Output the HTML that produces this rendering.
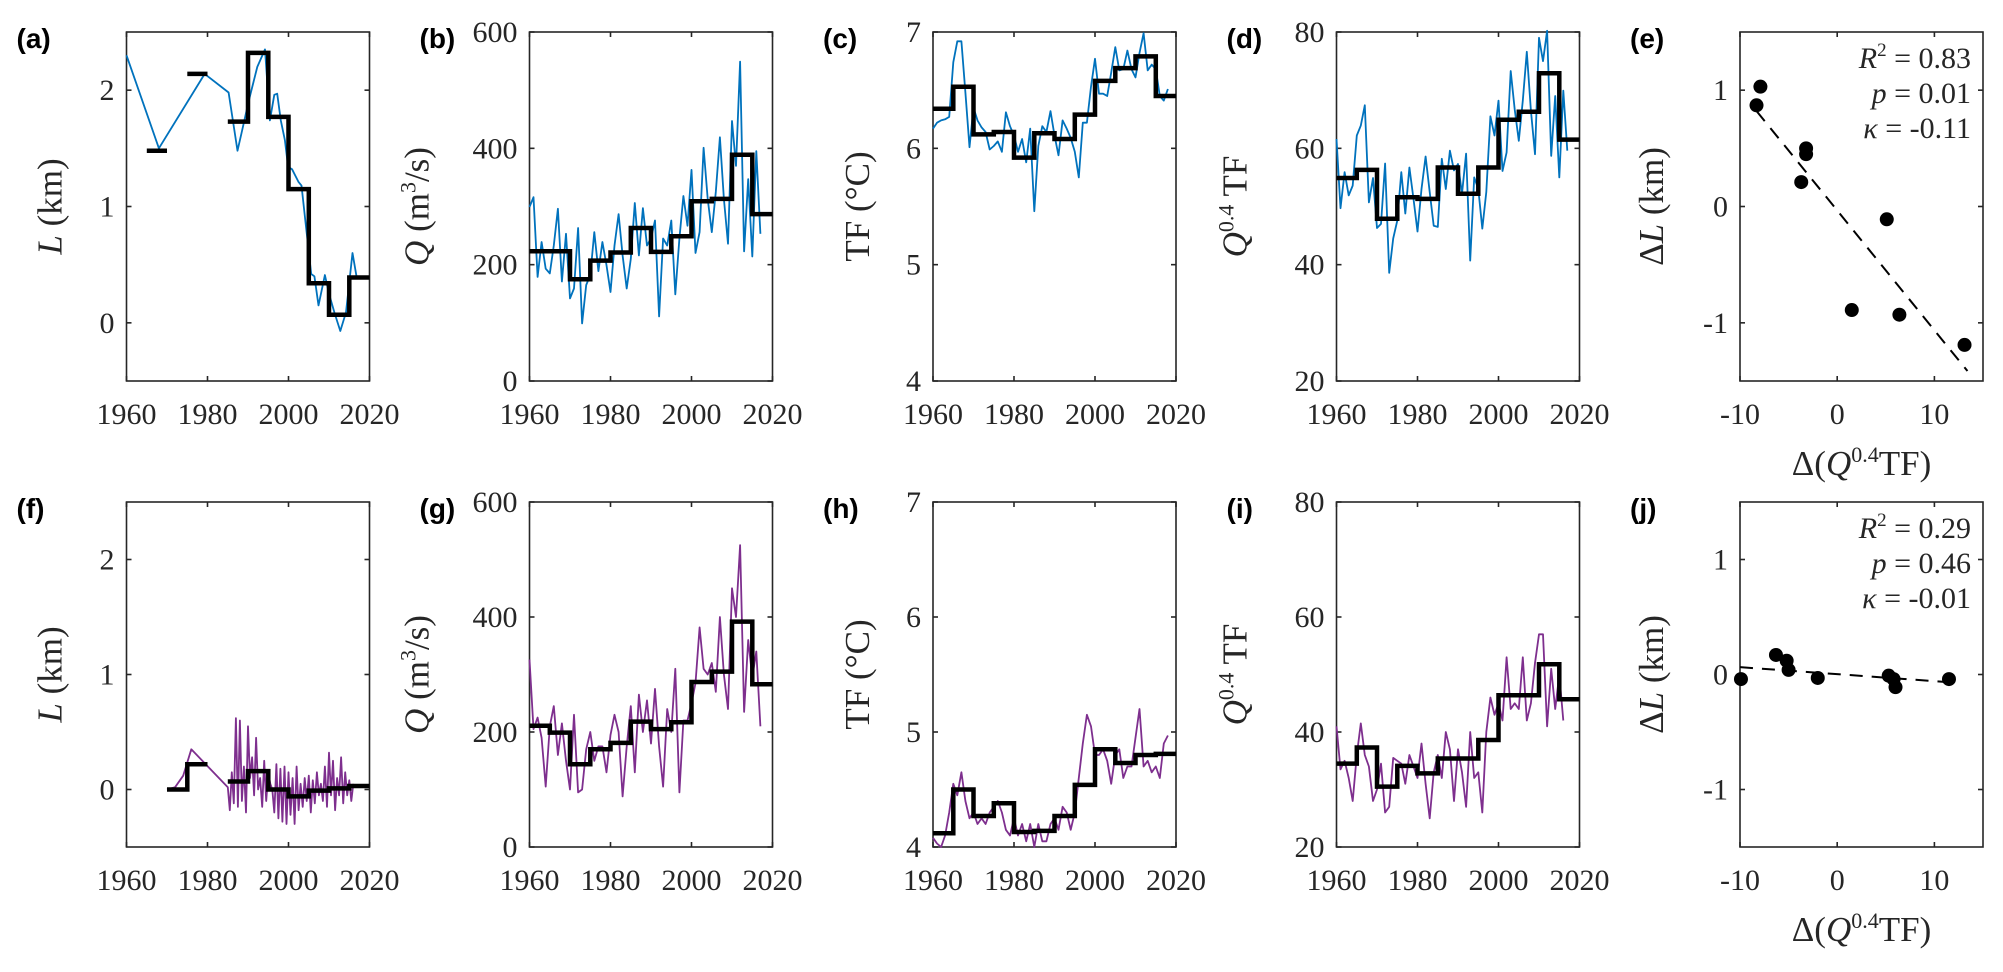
<!DOCTYPE html>
<html><head><meta charset="utf-8"><style>
body{margin:0;background:#fff}
svg{display:block}
text{font-family:"Liberation Serif",serif;fill:#262626}
.pl{font-family:"Liberation Sans",sans-serif;font-weight:bold;font-size:28px;fill:#000}
.tk{font-size:30px}
.lab{font-size:35px}
.ann{font-size:30px}
</style></head><body>
<svg id="fig" width="2003" height="972" viewBox="0 0 2003 972" xmlns="http://www.w3.org/2000/svg"></svg>
<script>
// ---------- data ----------
const aYears=[1960,1968,1979.3,1985.2,1987.4,1988.4,1990.2,1992.3,1994.2,1995.4,1996.5,1997.2,1998.1,1999.1,1999.9,2000.9,2002.5,2003.2,2004.6,2005.6,2006.4,2007.4,2009,2010,2011.4,2012.8,2014.2,2015.8,2016.8];
const aVals=[2.30,1.50,2.14,1.98,1.48,1.63,1.91,2.20,2.35,1.74,1.96,1.97,1.74,1.57,1.34,1.32,1.21,1.18,0.74,0.42,0.40,0.15,0.41,0.25,0.08,-0.07,0.09,0.60,0.40];
const aStepStart=[1965,1975,1985,1990,1995,2000,2005,2010,2015];
const aStepVal=[1.48,2.14,1.73,2.32,1.77,1.15,0.34,0.07,0.39];

const bVals=[299,316,179,239,193,185,233,296,171,253,142,159,263,99,165,182,256,189,239,199,153,233,287,216,159,210,306,216,297,233,245,276,111,245,233,276,149,245,318,267,363,220,256,401,313,256,325,419,313,236,447,370,549,223,347,214,395,253];
const bStepStart=[1960,1970,1975,1980,1985,1990,1995,2000,2005,2010,2015];
const bStepVal=[223,175,207,221,263,222,249,309,313,389,287];

const cVals=[6.17,6.22,6.24,6.25,6.27,6.74,6.92,6.92,6.48,6.01,6.35,6.24,6.18,6.14,5.99,6.02,6.06,5.97,6.31,6.19,6.11,5.97,6.08,5.88,6.17,5.46,6.02,6.19,6.14,6.32,6.11,5.94,6.24,6.17,6.09,5.97,5.75,6.22,6.22,6.53,6.77,6.47,6.47,6.45,6.65,6.87,6.67,6.68,6.84,6.68,6.61,6.82,6.99,6.67,6.72,6.68,6.45,6.41,6.51];
const cStepStart=[1960,1965,1970,1975,1980,1985,1990,1995,2000,2005,2010,2015];
const cStepVal=[6.34,6.53,6.12,6.14,5.92,6.13,6.08,6.29,6.58,6.69,6.79,6.45];

const dVals=[61.6,49.7,55.9,51.9,53.6,62.2,63.9,67.4,50.7,54.9,46.3,47.0,57.4,38.6,44.5,47.6,55.9,48.8,56.7,51.3,45.7,53.0,58.6,52.5,46.7,46.5,58.2,53.0,59.6,56.2,57.3,52.2,59.1,40.7,55.0,53.0,46.2,52.5,65.5,62.2,68.2,56.1,59.3,73.3,66.7,61.3,68.2,76.6,66.5,59.0,79.0,75.0,80.2,58.7,69.0,55.0,69.9,59.6];
const dStepStart=[1960,1965,1970,1975,1980,1985,1990,1995,2000,2005,2010,2015];
const dStepVal=[54.9,56.3,47.9,51.6,51.3,56.7,52.2,56.7,64.9,66.3,72.9,61.5];

const eX=[-7.9,-8.3,-3.2,-3.2,-3.7,5.1,1.5,6.4,13.1];
const eY=[1.03,0.87,0.50,0.45,0.21,-0.11,-0.89,-0.93,-1.19];
const eFit=[-0.034,-0.103]; // intercept, slope
const eFitRange=[-8.3,13.4];
const eStats=["0.83","0.01","-0.11"];

const fYears=[1970,1972,1974,1976,1985];
const fVals=[0,0.02,0.12,0.35,0.02];
const fDenseStart=1985.5, fDenseStep=0.5;
const fDense=[-0.18,0.15,-0.12,0.62,-0.15,0.6,-0.1,0.2,-0.2,0.55,0.1,0.28,-0.05,0.45,0.0,0.1,-0.15,0.25,-0.1,0.15,0.05,0.0,-0.2,0.22,-0.25,0.18,-0.28,0.2,-0.3,0.15,-0.22,0.1,-0.3,0.2,-0.18,0.05,-0.15,0.1,-0.1,0.12,-0.2,0.08,-0.12,0.15,-0.05,0.05,-0.1,0.2,-0.15,0.32,-0.05,0.25,-0.18,0.1,-0.05,0.28,-0.12,0.15,-0.05,0.08,-0.1,0.05];
const fStepStart=[1970,1975,1985,1990,1995,2000,2005,2010,2015];
const fStepVal=[0,0.22,0.07,0.16,0.0,-0.06,-0.01,0.01,0.03];

const gVals=[326,205,225,190,105,210,245,160,215,150,100,230,95,100,170,200,150,175,175,130,195,230,200,88,175,245,130,265,200,255,180,275,175,105,240,200,310,95,220,220,250,285,382,310,300,320,270,400,300,240,450,400,525,235,360,295,340,210];
const gStepStart=[1960,1965,1970,1975,1980,1985,1990,1995,2000,2005,2010,2015];
const gStepVal=[211,199,144,170,181,218,205,217,287,305,392,283];

const hVals=[4.08,4.03,4.0,4.1,4.3,4.55,4.45,4.65,4.4,4.25,4.3,4.2,4.25,4.2,4.3,4.35,4.4,4.3,4.15,4.1,4.25,4.1,4.2,4.05,4.2,4.0,4.2,4.05,4.05,4.2,4.25,4.15,4.35,4.3,4.15,4.3,4.6,4.9,5.15,5.05,4.8,4.8,4.85,4.75,4.55,4.8,4.85,4.6,4.7,4.7,4.95,5.2,4.7,4.75,4.65,4.7,4.6,4.9,4.97];
const hStepStart=[1960,1965,1970,1975,1980,1985,1990,1995,2000,2005,2010,2015];
const hStepVal=[4.12,4.50,4.27,4.38,4.13,4.14,4.27,4.54,4.85,4.73,4.80,4.81];

const iVals=[41,33.5,35,32,28,36,41.5,36,34,28,30,34.5,26,27,35.5,35,34.5,31,36,34,32,38,31,25,33,36,32,40,37,28,37,33,27,40,32,33,26,40,46,43,45,42,53,44,45,44,53,42,45,52,57,57,41,51,44,50,42];
const iStepStart=[1960,1965,1970,1975,1980,1985,1990,1995,2000,2005,2010,2015];
const iStepVal=[34.5,37.3,30.5,34.1,32.8,35.4,35.4,38.6,46.4,46.4,51.8,45.7];

const jX=[-9.9,-6.3,-5.2,-5.0,-2.0,5.3,5.8,6.0,11.5];
const jY=[-0.04,0.17,0.12,0.04,-0.03,-0.01,-0.04,-0.11,-0.04];
const jFit=[0.003,-0.0061];
const jFitRange=[-10,11.5];
const jStats=["0.29","0.46","-0.01"];

const yearTicks=[1960,1980,2000,2020];
const scatXTicks=[-10,0,10];

// ---------- drawing ----------
const NS="http://www.w3.org/2000/svg";
const svg=document.getElementById('fig');
function el(tag,attrs,parent){const e=document.createElementNS(NS,tag);for(const k in attrs)e.setAttribute(k,attrs[k]);(parent||svg).appendChild(e);return e;}
const BLUE="#0072BD",PURP="#7E2F8E",AX="#262626";
const lefts=[126.5,529.5,933,1336.5,1740], W=243;
const rows=[[32,381],[502,847]];

function makeAxes(name,col,row,xr,yr,xt,yt,ylabelHTML,ylabOff,letter){
  const x0=lefts[col],y0=rows[row][0],y1=rows[row][1];
  const g=el('g',{});
  
  
  const sx=v=>x0+(v-xr[0])/(xr[1]-xr[0])*W;
  const sy=v=>y1-(v-yr[0])/(yr[1]-yr[0])*(y1-y0);
  const box=el('rect',{x:x0,y:y0,width:W,height:y1-y0,fill:'none',stroke:AX,'stroke-width':1.6},g);
  
  xt.forEach(t=>{const X=sx(t);
    el('line',{x1:X,x2:X,y1:y1,y2:y1-5,stroke:AX,'stroke-width':1.6},g);
    el('line',{x1:X,x2:X,y1:y0,y2:y0+5,stroke:AX,'stroke-width':1.6},g);
    const tx=el('text',{x:X,y:y1+43,'text-anchor':'middle',class:'tk'},g);tx.textContent=t;
    });
  yt.forEach(t=>{const Y=sy(t);
    el('line',{x1:x0,x2:x0+5,y1:Y,y2:Y,stroke:AX,'stroke-width':1.6},g);
    el('line',{x1:x0+W,x2:x0+W-5,y1:Y,y2:Y,stroke:AX,'stroke-width':1.6},g);
    const tx=el('text',{x:x0-12,y:Y+10,'text-anchor':'end',class:'tk'},g);tx.textContent=t;
    });
  const cy=(y0+y1)/2, cx=x0-ylabOff;
  const yl=el('text',{x:0,y:0,'text-anchor':'middle',class:'lab',transform:`translate(${cx+12},${cy}) rotate(-90)`},g);
  yl.innerHTML=ylabelHTML;
  
  const pl=el('text',{x:x0-110,y:y0+16,class:'pl'},g);pl.textContent='('+letter+')';
  
  return {g,sx,sy,x0,y0,y1};
}
function line(ax,xs,ys,color,name){
  let d='';xs.forEach((x,i)=>{d+=(i?'L':'M')+ax.sx(x).toFixed(1)+' '+ax.sy(ys[i]).toFixed(1);});
  const p=el('path',{d,fill:'none',stroke:color,'stroke-width':1.8,'stroke-linejoin':'round'},ax.g);
  
}
function steps(ax,starts,vals,name){
  let d='';
  starts.forEach((s,i)=>{const e=s+5;
    const Y=ax.sy(vals[i]).toFixed(1);
    if(i>0&&starts[i-1]+5===s)d+='L'+ax.sx(s).toFixed(1)+' '+Y;
    else d+='M'+ax.sx(s).toFixed(1)+' '+Y;
    d+='L'+ax.sx(Math.min(e,2020)).toFixed(1)+' '+Y;});
  const p=el('path',{d,fill:'none',stroke:'#000','stroke-width':4.5,'stroke-linejoin':'miter'},ax.g);
  
}
// first bin of b,g etc spans 10 years where starts gap is 10
function stepsGen(ax,starts,vals,name){
  let d='';
  starts.forEach((s,i)=>{const e=i<starts.length-1?starts[i+1]:2020;
    const Y=ax.sy(vals[i]).toFixed(1);
    d+=(i?'L':'M')+ax.sx(s).toFixed(1)+' '+Y+'L'+ax.sx(e).toFixed(1)+' '+Y;});
  const p=el('path',{d,fill:'none',stroke:'#000','stroke-width':4.5},ax.g);
  
}
const yrs=n=>Array.from({length:n},(_,i)=>1960+i);
function scatter(ax,xs,ys,fit,rng,stats,name){
  const p=el('path',{d:`M${ax.sx(rng[0])} ${ax.sy(fit[0]+fit[1]*rng[0])}L${ax.sx(rng[1])} ${ax.sy(fit[0]+fit[1]*rng[1])}`,stroke:'#000','stroke-width':2,'stroke-dasharray':'13,9',fill:'none'},ax.g);
  
  xs.forEach((x,i)=>{const c=el('circle',{cx:ax.sx(x),cy:ax.sy(ys[i]),r:7,fill:'#000'},ax.g);
    });
  const labs=[`<tspan font-style="italic">R</tspan><tspan font-size="19" dy="-12">2</tspan><tspan dy="12"> = ${stats[0]}</tspan>`,
    `<tspan font-style="italic">p</tspan> = ${stats[1]}`,`<tspan font-style="italic">κ</tspan> = ${stats[2]}`];
  labs.forEach((h,i)=>{const t=el('text',{x:ax.x0+W-12,y:ax.y0+36+i*35,'text-anchor':'end',class:'ann'},ax.g);t.innerHTML=h;
    });
  const xl=el('text',{x:ax.x0+W/2,y:ax.y1+94,'text-anchor':'middle',class:'lab'},ax.g);
  xl.innerHTML='Δ(<tspan font-style="italic">Q</tspan><tspan font-size="22" dy="-13">0.4</tspan><tspan dy="13">TF)</tspan>';
  
}
const L_LAB='<tspan font-style="italic">L</tspan> (km)';
const Q_LAB='<tspan font-style="italic">Q</tspan> (m<tspan font-size="22" dy="-13">3</tspan><tspan dy="13">/s)</tspan>';
const T_LAB='TF (°C)';
const QT_LAB='<tspan font-style="italic">Q</tspan><tspan font-size="22" dy="-13">0.4</tspan><tspan dy="13"> TF</tspan>';
const DL_LAB='Δ<tspan font-style="italic">L</tspan> (km)';

// top row
let a=makeAxes('panel-a',0,0,[1960,2020],[-0.5,2.5],yearTicks,[0,1,2],L_LAB,77,'a');
line(a,aYears,aVals,BLUE,'length-series');steps(a,aStepStart,aStepVal,'length-steps');
let b=makeAxes('panel-b',1,0,[1960,2020],[0,600],yearTicks,[0,200,400,600],Q_LAB,113,'b');
line(b,yrs(bVals.length),bVals,BLUE,'discharge-series');stepsGen(b,bStepStart,bStepVal,'discharge-steps');
let c=makeAxes('panel-c',2,0,[1960,2020],[4,7],yearTicks,[4,5,6,7],T_LAB,76,'c');
line(c,yrs(cVals.length),cVals,BLUE,'tf-series');stepsGen(c,cStepStart,cStepVal,'tf-steps');
let d=makeAxes('panel-d',3,0,[1960,2020],[20,80],yearTicks,[20,40,60,80],QT_LAB,102,'d');
line(d,yrs(dVals.length),dVals,BLUE,'forcing-series');stepsGen(d,dStepStart,dStepVal,'forcing-steps');
let e=makeAxes('panel-e',4,0,[-10,15],[-1.5,1.5],scatXTicks,[-1,0,1],DL_LAB,89,'e');
scatter(e,eX,eY,eFit,eFitRange,eStats,'e');

// bottom row
let f=makeAxes('panel-f',0,1,[1960,2020],[-0.5,2.5],yearTicks,[0,1,2],L_LAB,77,'f');
const fx=fYears.concat(fDense.map((_,i)=>fDenseStart+i*fDenseStep)), fy=fVals.concat(fDense);
line(f,fx,fy,PURP,'length-series');steps(f,fStepStart,fStepVal,'length-steps');
let g=makeAxes('panel-g',1,1,[1960,2020],[0,600],yearTicks,[0,200,400,600],Q_LAB,113,'g');
line(g,yrs(gVals.length),gVals,PURP,'discharge-series');stepsGen(g,gStepStart,gStepVal,'discharge-steps');
let h=makeAxes('panel-h',2,1,[1960,2020],[4,7],yearTicks,[4,5,6,7],T_LAB,76,'h');
line(h,yrs(hVals.length),hVals,PURP,'tf-series');stepsGen(h,hStepStart,hStepVal,'tf-steps');
let i_=makeAxes('panel-i',3,1,[1960,2020],[20,80],yearTicks,[20,40,60,80],QT_LAB,102,'i');
line(i_,yrs(iVals.length),iVals,PURP,'forcing-series');stepsGen(i_,iStepStart,iStepVal,'forcing-steps');
let j=makeAxes('panel-j',4,1,[-10,15],[-1.5,1.5],scatXTicks,[-1,0,1],DL_LAB,89,'j');
scatter(j,jX,jY,jFit,jFitRange,jStats,'j');
</script>
</body></html>
